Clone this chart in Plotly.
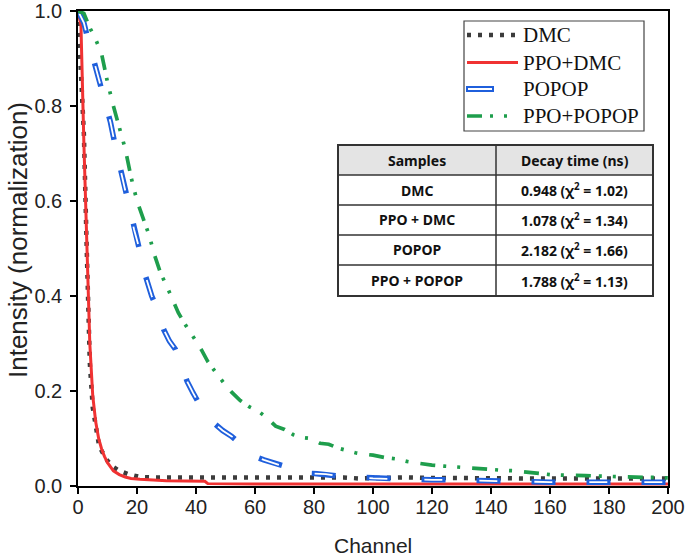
import plotly.graph_objects as go

# ---------------- data ----------------
dmc_ch = [0, 1, 2, 3, 4, 5, 6, 7, 8, 9, 10, 12, 14, 17, 21, 25, 30, 35, 40, 45, 50, 55, 60, 65, 70,
          75, 80, 85, 90, 95, 100, 110, 120, 130, 140, 150, 160, 170, 180, 190, 200]
dmc_val = [1.0, 0.88, 0.74, 0.49, 0.26, 0.165, 0.125, 0.09, 0.074, 0.063, 0.053, 0.040, 0.032, 0.025,
           0.019, 0.018, 0.018, 0.018, 0.017, 0.018, 0.018, 0.019, 0.018, 0.017, 0.017, 0.018, 0.017,
           0.017, 0.018, 0.016, 0.017, 0.018, 0.017, 0.016, 0.017, 0.016, 0.016, 0.016, 0.016, 0.016,
           0.016]

ppo_dmc_ch = [0, 1, 2, 3, 4, 5, 6, 7, 8, 9, 10, 12, 14, 16, 18, 21, 25, 30, 43, 44, 60, 100, 150, 200]
ppo_dmc_val = [1.0, 0.97, 0.72, 0.48, 0.30, 0.19, 0.135, 0.10, 0.078, 0.062, 0.049, 0.032, 0.024,
               0.019, 0.016, 0.014, 0.012, 0.011, 0.010, 0.005, 0.004, 0.004, 0.004, 0.004]

popop_ch = [0, 2, 3, 5, 7, 9, 11, 13, 15, 17, 19, 21, 23, 25, 27, 29, 31, 33, 35, 37, 39, 41, 43, 45,
            47, 49, 52, 55, 58, 60, 63, 66, 69, 72, 75, 78, 81, 84, 88, 92, 96, 100, 105, 110, 115,
            120, 125, 130, 135, 140, 145, 150, 155, 160, 170, 180, 190, 200]
popop_val = [1.0, 0.975, 0.95, 0.905, 0.86, 0.81, 0.766, 0.705, 0.65, 0.595, 0.54, 0.495, 0.44, 0.40,
             0.37, 0.33, 0.305, 0.288, 0.255, 0.22, 0.196, 0.175, 0.152, 0.138, 0.127, 0.117, 0.105,
             0.09, 0.072, 0.062, 0.055, 0.049, 0.043, 0.036, 0.03, 0.027, 0.026, 0.025, 0.021, 0.019,
             0.018, 0.016, 0.015, 0.014, 0.014, 0.013, 0.013, 0.012, 0.011, 0.010, 0.010, 0.009,
             0.009, 0.008, 0.008, 0.008, 0.008, 0.008]

ppo_popop_ch = [0, 2, 4, 6, 8, 10, 12, 14, 16, 18, 20, 22, 24, 26, 28, 30, 32, 34, 36, 38, 40, 42, 44,
                46, 48, 50, 52, 55, 58, 61, 64, 67, 70, 73, 76, 79, 82, 85, 88, 91, 94, 97, 100, 104,
                108, 112, 116, 120, 124, 128, 132, 136, 140, 144, 148, 152, 156, 160, 164, 168, 172,
                176, 180, 184, 188, 192, 196, 200]
ppo_popop_val = [1.0, 0.995, 0.965, 0.94, 0.91, 0.85, 0.80, 0.755, 0.71, 0.65, 0.60, 0.565, 0.53,
                 0.485, 0.448, 0.422, 0.393, 0.365, 0.343, 0.325, 0.305, 0.285, 0.262, 0.245, 0.228,
                 0.212, 0.198, 0.18, 0.167, 0.158, 0.144, 0.126, 0.119, 0.108, 0.102, 0.10, 0.09,
                 0.088, 0.08, 0.074, 0.07, 0.067, 0.065, 0.06, 0.057, 0.051, 0.047, 0.044, 0.042,
                 0.04, 0.038, 0.036, 0.035, 0.033, 0.032, 0.029, 0.026, 0.024, 0.023, 0.023, 0.022,
                 0.021, 0.02, 0.019, 0.019, 0.018, 0.018, 0.017]

series_names = ["DMC", "PPO+DMC", "POPOP", "PPO+POPOP"]
x_ticks = [0, 20, 40, 60, 80, 100, 120, 140, 160, 180, 200]
y_ticks = [0.0, 0.2, 0.4, 0.6, 0.8, 1.0]
x_title = "Channel"
y_title = "Intensity (normalization)"

table_header = ["Samples", "Decay time (ns)"]
table_samples = ["DMC", "PPO + DMC", "POPOP", "PPO + POPOP"]
table_decay = ["0.948", "1.078", "2.182", "1.788"]
table_chi2 = ["1.02", "1.34", "1.66", "1.13"]

# ---------------- styles ----------------
C_DMC = "#3c3c3c"
C_RED = "#f03232"
C_BLUE = "#1f5fdc"
C_GREEN = "#1e9e4c"
DOT = "4px,7px"
BLUE_DASH = "24px,31px"
WHITE_DASH = "0px,3px,18px,34px"
GREEN_DASH = "15px,8px,3px,11px,3px,12px"

W, H = 685, 557
PL, PR, PT, PB = 78, 668, 11, 486          # plot-area edges in pixels
PW, PH = PR - PL, PB - PT


def px(x):
    return (x - PL) / PW


def py(y):
    return (PB - y) / PH


fig = go.Figure()
fig.add_trace(go.Scatter(x=dmc_ch, y=dmc_val, mode="lines", name=series_names[0],
                         line=dict(color=C_DMC, width=4.5, dash=DOT), showlegend=False))
fig.add_trace(go.Scatter(x=ppo_dmc_ch, y=ppo_dmc_val, mode="lines", name=series_names[1],
                         line=dict(color=C_RED, width=3), showlegend=False))
fig.add_trace(go.Scatter(x=popop_ch, y=popop_val, mode="lines", name=series_names[2],
                         line=dict(color=C_BLUE, width=5.5, dash=BLUE_DASH), showlegend=False))
fig.add_trace(go.Scatter(x=popop_ch, y=popop_val, mode="lines", name=series_names[2] + " (inner)",
                         line=dict(color="white", width=1.8, dash=WHITE_DASH), showlegend=False,
                         hoverinfo="skip"))
fig.add_trace(go.Scatter(x=ppo_popop_ch, y=ppo_popop_val, mode="lines", name=series_names[3],
                         line=dict(color=C_GREEN, width=3.7, dash=GREEN_DASH), showlegend=False))

shapes = []
annotations = []

# ---------------- manual legend ----------------
lg_l, lg_r, lg_t, lg_b = 464, 644, 21, 131
shapes.append(dict(type="rect", xref="paper", yref="paper", x0=px(lg_l), x1=px(lg_r),
                   y0=py(lg_b), y1=py(lg_t), line=dict(color="#444444", width=1.2),
                   fillcolor="white", layer="above"))
rows_y = [35, 62.5, 89, 116]
shapes.append(dict(type="line", xref="paper", yref="paper", x0=px(467), x1=px(517),
                   y0=py(rows_y[0]), y1=py(rows_y[0]), line=dict(color=C_DMC, width=4.5, dash=DOT)))
shapes.append(dict(type="line", xref="paper", yref="paper", x0=px(467), x1=px(518),
                   y0=py(rows_y[1]), y1=py(rows_y[1]), line=dict(color=C_RED, width=3)))
shapes.append(dict(type="rect", xref="paper", yref="paper", x0=px(467), x1=px(493),
                   y0=py(rows_y[2] + 2), y1=py(rows_y[2] - 2), line=dict(color=C_BLUE, width=2),
                   fillcolor="white"))
shapes.append(dict(type="line", xref="paper", yref="paper", x0=px(467), x1=px(511),
                   y0=py(rows_y[3]), y1=py(rows_y[3]),
                   line=dict(color=C_GREEN, width=3.7, dash=GREEN_DASH)))
for name, yy in zip(series_names, rows_y):
    annotations.append(dict(xref="paper", yref="paper", x=px(521), y=py(yy), text=name,
                            showarrow=False, xanchor="left", yanchor="middle",
                            font=dict(family="Liberation Serif", size=21, color="#111111")))

# ---------------- table ----------------
t_l, t_r, t_mid = 338, 653, 496
t_rows = [145, 175, 205, 235, 265, 296]
shapes.append(dict(type="rect", xref="paper", yref="paper", x0=px(t_l), x1=px(t_r),
                   y0=py(t_rows[-1]), y1=py(t_rows[0]), line=dict(width=0), fillcolor="white"))
shapes.append(dict(type="rect", xref="paper", yref="paper", x0=px(t_l), x1=px(t_r),
                   y0=py(t_rows[1]), y1=py(t_rows[0]), line=dict(width=0), fillcolor="#e4e4e4"))
for yy in t_rows[1:-1]:
    shapes.append(dict(type="line", xref="paper", yref="paper", x0=px(t_l), x1=px(t_r),
                       y0=py(yy), y1=py(yy), line=dict(color="#333333", width=1.5)))
shapes.append(dict(type="line", xref="paper", yref="paper", x0=px(t_mid), x1=px(t_mid),
                   y0=py(t_rows[-1]), y1=py(t_rows[0]), line=dict(color="#333333", width=1.5)))
shapes.append(dict(type="rect", xref="paper", yref="paper", x0=px(t_l), x1=px(t_r),
                   y0=py(t_rows[-1]), y1=py(t_rows[0]), line=dict(color="#333333", width=2)))

c1 = (t_l + t_mid) / 2
c2 = (t_mid + t_r) / 2
tfont = dict(family="Noto Sans", size=14, color="#111111", weight="bold")


def cell(x, y, text):
    annotations.append(dict(xref="paper", yref="paper", x=px(x), y=py(y), text=text,
                            showarrow=False, xanchor="center", yanchor="middle", font=tfont))


cell(c1, (t_rows[0] + t_rows[1]) / 2, table_header[0])
cell(c2, (t_rows[0] + t_rows[1]) / 2, table_header[1])
for i in range(4):
    yc = (t_rows[i + 1] + t_rows[i + 2]) / 2
    cell(c1, yc, table_samples[i])
    cell(c2, yc, f"{table_decay[i]} (χ<sup>2</sup> = {table_chi2[i]})")

# ---------------- axis titles ----------------
annotations.append(dict(xref="paper", yref="paper", x=px(373), y=py(545), text=x_title,
                        showarrow=False, xanchor="center", yanchor="middle",
                        font=dict(family="Liberation Sans", size=21, color="#222222")))
annotations.append(dict(xref="paper", yref="paper", x=px(18), y=py(240), text=y_title,
                        textangle=-90, showarrow=False, xanchor="center", yanchor="middle",
                        font=dict(family="Liberation Sans", size=26, color="#222222")))

axis_font = dict(family="Liberation Sans", size=20, color="#222222")
fig.update_layout(
    width=W, height=H,
    margin=dict(l=PL, r=W - PR, t=PT, b=H - PB, autoexpand=False),
    paper_bgcolor="white", plot_bgcolor="white",
    shapes=shapes, annotations=annotations,
    showlegend=False,
    xaxis=dict(range=[0, 200], tickvals=x_ticks, ticks="outside", ticklen=6, tickwidth=1.5,
               tickcolor="black", showline=True, linecolor="black", linewidth=1.5, mirror=True,
               showgrid=False, zeroline=False, tickfont=axis_font, ticklabeloverflow="allow",
               ticklabelstandoff=-4),
    yaxis=dict(range=[0, 1], tickvals=y_ticks, tickformat=".1f", ticks="outside", ticklen=6,
               tickwidth=1.5, tickcolor="black", showline=True, linecolor="black", linewidth=1.5,
               mirror=True, showgrid=False, zeroline=False, tickfont=axis_font,
               ticklabelstandoff=4, ticklabeloverflow="allow"),
)

fig.write_html("out.html", config={"displayModeBar": False},
               post_script="document.body.style.margin='0';document.body.style.padding='0';")
